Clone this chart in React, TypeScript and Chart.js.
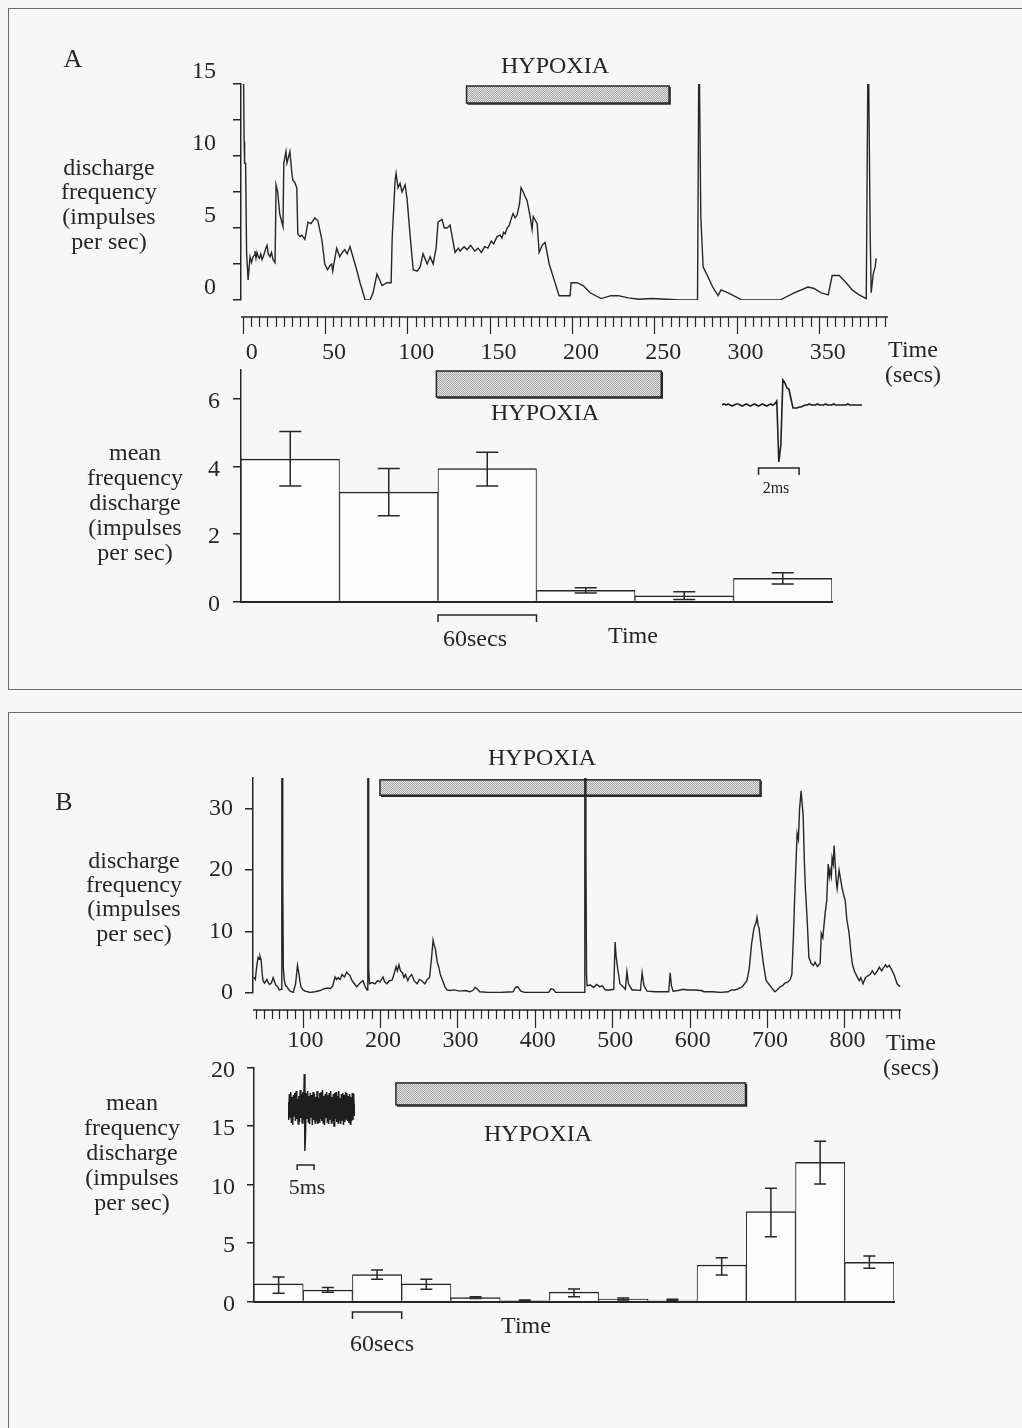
import React, { useEffect, useRef } from "react";
import { Chart, registerables } from "chart.js";

Chart.register(...registerables);

const SERIF = "'Liberation Serif', 'Times New Roman', serif";
const INK = "#262626";
const PAPER = "#f7f7f7";
const TICK_FONT = { family: SERIF, size: 24, lineHeight: 1 };

// ---------- Panel A ----------
// continuous discharge record: [time (s), impulses per sec]
const traceA: [number, number][] = [
  [0, 15], [0.6, 15], [0.9, 11], [1.2, 9.5], [1.8, 9.5], [2.4, 3.3], [3.3, 1.4], [4.5, 3.0],
  [5.4, 2.6], [6.3, 3.0], [7.0, 3.1], [7.5, 3.4], [8.1, 2.9], [8.7, 3.3], [9.5, 3.0], [10.2, 2.9],
  [11.0, 3.2], [11.8, 2.8], [12.5, 3.0], [13.3, 3.3], [14.1, 3.6], [14.8, 3.8], [15.6, 3.2],
  [16.6, 3.0], [17.5, 3.3], [18.5, 2.8], [19.7, 2.6], [20.3, 8.0], [21.3, 7.5], [22.5, 6.0],
  [24.5, 5.1], [25.0, 9.5], [26.3, 10.3], [26.9, 9.5], [27.8, 9.9], [28.7, 10.3], [29.9, 8.8],
  [30.5, 8.3], [31.5, 8.2], [32.9, 7.8], [33.5, 4.6], [34.8, 4.4], [36.0, 4.5], [37.8, 4.2],
  [39.7, 5.4], [41.5, 5.3], [43.9, 5.7], [45.7, 5.5], [48.1, 4.2], [49.9, 2.5], [51.6, 2.1],
  [53.0, 2.4], [54.1, 2.5], [54.7, 2.0], [57.1, 3.6], [59.0, 3.0], [60.5, 3.3], [62.0, 3.5],
  [63.5, 3.2], [65.2, 3.7], [67.0, 3.0], [69.5, 2.0], [71.3, 1.2], [74.4, 0.0], [77.4, 0.0],
  [79.2, 0.5], [81.6, 1.8], [84.7, 1.0], [87.7, 1.2], [90.2, 1.2], [90.8, 4.2], [92.6, 8.3],
  [93.2, 8.8], [94.4, 7.8], [95.6, 8.1], [96.8, 7.5], [98.7, 8.0], [99.9, 7.0], [101.7, 4.5],
  [103.6, 2.1], [106.0, 2.0], [107.8, 2.3], [109.6, 3.2], [112.1, 2.5], [113.9, 3.0],
  [115.7, 2.5], [117.5, 3.6], [118.7, 5.4], [121.1, 5.6], [122.5, 5.0], [124.2, 5.0],
  [126.0, 5.2], [129.0, 3.3], [131.0, 3.6], [132.1, 3.4], [134.5, 3.7], [136.3, 3.5],
  [138.5, 3.8], [141.0, 3.4], [143.0, 3.6], [145.0, 3.3], [147.0, 3.7], [149.0, 3.6],
  [151.0, 4.1], [152.5, 3.9], [154.5, 4.4], [156.4, 4.5], [157.5, 4.3], [158.5, 4.7],
  [159.5, 4.6], [160.6, 5.0], [162.0, 5.2], [163.0, 5.6], [164.3, 6.0], [165.5, 5.7],
  [166.7, 5.9], [168.2, 6.7], [169.1, 7.8], [170.4, 7.5], [171.5, 7.2], [172.8, 6.9],
  [174.6, 5.8], [175.8, 4.9], [176.5, 5.8], [178.9, 5.3], [180.1, 3.3], [181.9, 3.8],
  [183.7, 4.0], [186.2, 2.5], [189.2, 1.4], [192.2, 0.3], [198.9, 0.3], [199.5, 1.2],
  [203.1, 1.2], [206.8, 1.0], [211.1, 0.5], [217.7, 0.1], [223.8, 0.3], [228.1, 0.3],
  [234.2, 0.15], [240.8, 0.05], [248.7, 0.1], [257.2, 0.05], [265.7, 0], [276.3, 0], [277.0, 15],
  [277.5, 15], [278.3, 5.8], [279.7, 2.3], [282.7, 1.6], [285.5, 0.9], [288.8, 0.3], [290.6, 0.7],
  [294.9, 0.5], [303.4, 0], [309.4, 0], [326.4, 0], [335.0, 0.5], [343.4, 0.9], [347.1, 0.8],
  [351.4, 0.5], [355.7, 0.35], [358.1, 1.7], [362.4, 1.7], [366.6, 1.2], [370.3, 0.7],
  [374.5, 0.35], [378.8, 0.1], [379.7, 15], [380.3, 15], [381.2, 4.4], [381.8, 0.5], [383.0, 1.8],
  [384.2, 2.3], [384.8, 2.9],
];
const hypoxiaTimeA = [136, 259];
const hypoxiaLevelA = [13.68, 14.86];

// 60 s bin means with error limits
const binCentresA = [30, 90, 150, 210, 270, 330];
const binMeansA = [4.22, 3.24, 3.94, 0.33, 0.17, 0.69];
const binErrHighA = [5.04, 3.94, 4.42, 0.41, 0.29, 0.85];
const binErrLowA = [3.42, 2.54, 3.42, 0.25, 0.06, 0.52];
const hypoxiaBinsA = [119, 256];
const hypoxiaBinLevelA = [6.06, 6.83];

// single action potential, 0.1 ms per sample
const spikeA = [
  0, 1, 0, 1, 0, -1, 0, 1, 1, 0, -1, 0, 1, 0, -1, 0, 1, 0, -1, 0,
  1, 0, -1, 0, 1, 0, 1, 4, -57, -40, 25, 22, 17, 16, 6, -3, -3, -3, -2, -2,
  -1, 0, 0, 1, 0, 0, 0, 1, 0, 0, 0, 1, 0, 0, 0, 1, 0, 0, 0, 0,
  0, 0, 1, 0, 0, 0, 0, 0, 0, 0,
];

// ---------- Panel B ----------
const traceB: [number, number][] = [
  [37, 2.6], [39, 2.2], [40.5, 4.0], [42.5, 5.8], [44, 5.5], [45, 6.0], [46.5, 5.4], [48, 3.0],
  [49, 2.0], [51, 1.6], [52.5, 1.9], [54, 2.2], [56, 1.6], [57.5, 1.4], [60, 1.7], [62, 2.5],
  [64, 1.8], [65.5, 1.3], [68, 1.0], [70, 0.5], [72.5, 0.6], [73.2, 35], [73.9, 35], [74.4, 19],
  [75.2, 4], [76.5, 2.0], [78, 1.2], [80, 1.0], [82, 0.6], [84, 0.3], [88, 0.1], [91, 1.5],
  [93.5, 4.5], [95, 3.4], [96.5, 2.0], [98, 1.0], [100, 0.6], [103, 0.3], [110, 0.1], [116, 0.2],
  [122.6, 0.4], [128, 0.7], [133, 0.8], [136, 0.7], [139, 1.2], [142, 2.6], [144, 2.2], [146, 2.5],
  [148.5, 2.2], [151, 3.0], [154, 2.6], [157, 3.4], [159, 3.1], [161, 2.9], [164, 2.0], [167, 1.5],
  [170, 1.0], [174, 1.6], [178, 2.0], [181, 1.0], [183.5, 0.5], [184.3, 35], [184.9, 35],
  [185.4, 4.0], [186.5, 1.5], [190, 1.7], [193.6, 1.5], [197, 2.0], [200, 1.8], [204, 2.6],
  [206, 1.8], [209, 1.5], [212, 2.0], [215.6, 2.1], [218, 3.0], [220.8, 4.3], [222.5, 3.6],
  [224.5, 4.6], [226.5, 3.6], [229, 3.3], [231, 2.5], [233, 3.0], [236, 2.0], [238, 2.6],
  [241, 3.0], [244, 2.0], [248, 1.5], [251, 2.2], [254, 2.0], [258, 1.5], [261, 2.2], [264, 2.5],
  [266.5, 5.5], [268.6, 8.6], [270, 7.8], [271.5, 7.2], [274, 5.0], [276, 4.2], [278, 3.0],
  [281, 2.0], [284, 1.0], [286.6, 0.5], [290, 0.4], [296, 0.5], [303, 0.3], [310, 0.4], [316, 0.2],
  [320, 0.4], [323, 0.9], [326, 0.6], [329, 0.2], [340, 0.1], [355, 0.1], [372, 0.2], [375, 0.9],
  [378, 1.0], [382, 0.3], [387, 0.1], [400, 0.1], [418, 0.1], [421, 0.7], [424, 0.6], [427, 0.1],
  [445, 0.1], [463.6, 0.1], [464.6, 35], [465.3, 35], [466, 23], [466.8, 3], [467.5, 1.2],
  [472, 1.3], [476, 0.9], [480, 1.4], [484, 1.0], [487, 1.2], [491, 0.5], [496, 0.5], [502, 0.6],
  [503.7, 8.3], [505, 6.0], [507, 4.0], [510, 1.5], [514, 1.0], [517, 0.6], [519, 3.5], [521, 1.5],
  [525.7, 0.5], [530, 0.5], [536.5, 0.4], [538.6, 3.3], [541, 1.2], [545, 0.3], [555, 0.2],
  [565, 0.2], [573, 0.2], [574.8, 3.3], [576.5, 1.2], [578.6, 0.3], [585, 0.4], [592, 0.6],
  [596.7, 0.5], [605, 0.5], [614.8, 0.4], [618.7, 0.2], [630, 0.2], [640, 0.1], [649.7, 0.2],
  [654, 0.5], [658.7, 0.5], [663, 0.7], [667.8, 1.0], [671, 1.5], [674, 2.0], [677, 4.0],
  [680, 8.0], [683, 10.5], [685.9, 11.5], [687, 12.3], [688.5, 11.0], [689.7, 10.5], [692, 8.0],
  [695, 5.0], [698.8, 2.0], [702, 1.5], [705, 1.0], [710, 0.2], [713, 0.5], [716.9, 1.0],
  [720, 1.2], [723, 1.6], [727, 1.8], [730, 2.2], [732, 3.0], [734, 9.0], [735.5, 15.0],
  [737, 20], [738.8, 26], [740.5, 25], [742, 30], [744, 32.9], [745.5, 30.5], [746.6, 29],
  [748, 22], [749.5, 17], [751.8, 12], [754, 5.8], [757, 4.8], [760, 4.5], [762, 5.0], [765, 4.3],
  [768.6, 4.8], [770, 9.7], [772, 9.0], [775, 13], [777, 15], [779, 21], [780.5, 19], [781.5, 20],
  [783, 19], [784, 22], [785.5, 21], [786.6, 24], [788, 21], [789.5, 18], [790.5, 17], [793, 20],
  [795, 18.5], [797, 17], [799, 16], [801, 15], [803, 12], [806, 9.7], [808, 7], [810, 4.8],
  [813, 3.5], [815, 3.0], [819, 2.0], [821, 2.5], [824, 1.5], [827, 2.5], [830, 2.8], [833, 3.0],
  [836, 3.6], [839, 3.0], [842, 3.5], [845, 4.2], [848, 3.6], [850, 4.0], [853, 4.6], [855, 4.2],
  [857.7, 4.5], [860, 4.0], [864, 3.0], [868, 1.5], [872, 1.0],
];
const hypoxiaTimeB = [200, 691];
const hypoxiaLevelB = [32.2, 34.7];

const binCentresB = [30, 90, 150, 210, 270, 330, 390, 450, 510, 570, 630, 690, 750];
const binMeansB = [1.5, 0.98, 2.3, 1.5, 0.33, 0.08, 0.8, 0.2, 0.12, 3.12, 7.68, 11.9, 3.35];
const binErrHighB = [2.1, 1.2, 2.7, 1.9, 0.4, 0.12, 1.07, 0.3, 0.2, 3.75, 9.67, 13.7, 3.89];
const binErrLowB = [0.7, 0.8, 1.9, 1.04, 0.26, 0.04, 0.4, 0.12, 0.06, 2.26, 5.54, 10.04, 2.84];
const hypoxiaBinsB = [173, 599];
const hypoxiaBinLevelB = [16.8, 18.68];

// raw multiunit record, 0.2 ms per sample
const noiseB = [
  6, -12, 14, -9, 16, -15, 11, -17, 13, -8,
  15, -13, 17, -11, 9, -16, 12, -14, 18, -10,
  14, -15, 16, -12, 34, -43, -22, 15, -11, 17,
  -14, 12, -16, 15, -9, 13, -17, 16, -12, 14,
  -15, 11, -13, 17, -16, 10, -14, 15, -11, 16,
  -13, 18, -15, 12, -17, 14, -10, 16, -14, 13,
  -16, 15, -12, 17, -15, 11, -13, 14, -18, 15,
  -11, 16, -14, 12, -15, 17, -13, 10, -16, 14,
  -12, 15, -17, 13, -14, 16, -11, 15, -13, 12,
  -15, 14, -16, 11, -13, 15, -12, 14, -8, 4,
];

// ---------- plugins ----------
function stipple(ctx: CanvasRenderingContext2D) {
  const c = document.createElement("canvas");
  c.width = 2;
  c.height = 2;
  const g = c.getContext("2d")!;
  g.fillStyle = "#e6e6e6";
  g.fillRect(0, 0, 2, 2);
  g.fillStyle = "#a4a4a4";
  g.fillRect(0, 0, 1, 1);
  g.fillRect(1, 1, 1, 1);
  return ctx.createPattern(c, "repeat")!;
}

const bandPlugin = {
  id: "band",
  beforeDatasetsDraw(chart: any, _a: any, o: any) {
    if (!o || !o.x) return;
    const { ctx } = chart;
    const xs = chart.scales.x;
    const ys = chart.scales.y;
    const l = xs.getPixelForValue(o.x[0]);
    const r = xs.getPixelForValue(o.x[1]);
    const t = ys.getPixelForValue(o.y[1]);
    const b = ys.getPixelForValue(o.y[0]);
    ctx.save();
    ctx.fillStyle = stipple(ctx);
    ctx.fillRect(l, t, r - l, b - t);
    ctx.strokeStyle = INK;
    ctx.lineWidth = 1.5;
    ctx.strokeRect(l, t, r - l, b - t);
    ctx.beginPath();
    ctx.moveTo(l + 1, b + 1);
    ctx.lineTo(r + 1, b + 1);
    ctx.lineTo(r + 1, t + 1);
    ctx.stroke();
    ctx.restore();
  },
};

const rulerPlugin = {
  id: "ruler",
  afterDraw(chart: any, _a: any, o: any) {
    if (!o || !o.step) return;
    const { ctx } = chart;
    const xs = chart.scales.x;
    const y0 = chart.chartArea.bottom + o.gap;
    ctx.save();
    ctx.strokeStyle = INK;
    ctx.lineWidth = 1.5;
    ctx.beginPath();
    ctx.moveTo(xs.left, y0);
    ctx.lineTo(xs.right, y0);
    ctx.stroke();
    ctx.lineWidth = 1.2;
    ctx.beginPath();
    const first = Math.ceil(xs.min / o.step) * o.step;
    for (let v = first; v <= xs.max; v += o.step) {
      const px = Math.round(xs.getPixelForValue(v)) + 0.5;
      const len = v % o.major === 0 ? o.majorLen : o.minorLen;
      ctx.moveTo(px, y0);
      ctx.lineTo(px, y0 + len);
    }
    ctx.stroke();
    ctx.restore();
  },
};

const errorBarPlugin = {
  id: "errorBars",
  afterDatasetsDraw(chart: any, _a: any, o: any) {
    if (!o || !o.hi) return;
    const { ctx } = chart;
    const ys = chart.scales.y;
    const meta = chart.getDatasetMeta(0);
    ctx.save();
    ctx.strokeStyle = INK;
    ctx.lineWidth = 1.5;
    meta.data.forEach((el: any, i: number) => {
      const hi = ys.getPixelForValue(o.hi[i]);
      const lo = ys.getPixelForValue(o.lo[i]);
      ctx.beginPath();
      ctx.moveTo(el.x, hi);
      ctx.lineTo(el.x, lo);
      ctx.moveTo(el.x - o.cap, hi);
      ctx.lineTo(el.x + o.cap, hi);
      ctx.moveTo(el.x - o.cap, lo);
      ctx.lineTo(el.x + o.cap, lo);
      ctx.stroke();
    });
    ctx.restore();
  },
};

const bracketPlugin = {
  id: "bracket",
  afterDraw(chart: any, _a: any, o: any) {
    if (!o || o.from === undefined) return;
    const { ctx } = chart;
    const xs = chart.scales.x;
    const l = xs.getPixelForValue(o.from);
    const r = xs.getPixelForValue(o.to);
    const y = chart.chartArea.bottom + o.gap;
    ctx.save();
    ctx.strokeStyle = INK;
    ctx.lineWidth = 1.5;
    ctx.beginPath();
    ctx.moveTo(l, y + o.drop);
    ctx.lineTo(l, y);
    ctx.lineTo(r, y);
    ctx.lineTo(r, y + o.drop);
    ctx.stroke();
    ctx.restore();
  },
};

const PLUGINS = [bandPlugin, rulerPlugin, errorBarPlugin, bracketPlugin];

const base = {
  animation: false,
  responsive: false,
  devicePixelRatio: 1,
  events: [],
};

function traceConfig(p: {
  data: [number, number][];
  xMin: number; xMax: number; xStep: number; xLabel: (v: number) => boolean; xPad: number; xOff: number; xH: number;
  yMax: number; yStep: number; yLabel: (v: number) => boolean; yPad: number; yOff: number; yW: number;
  pad: any; band: any; ruler: any;
}) {
  return {
    type: "line",
    data: {
      datasets: [{
        data: p.data.map(([x, y]) => ({ x, y })),
        borderColor: INK, borderWidth: 1.4, pointRadius: 0, tension: 0, fill: false,
      }],
    },
    options: {
      ...base,
      layout: { padding: p.pad },
      plugins: { legend: { display: false }, tooltip: { enabled: false }, band: p.band, ruler: p.ruler },
      scales: {
        x: {
          type: "linear", min: p.xMin, max: p.xMax,
          grid: { display: false, drawTicks: false }, border: { display: false },
          ticks: {
            stepSize: p.xStep, includeBounds: false, autoSkip: false, maxRotation: 0,
            padding: p.xPad, labelOffset: p.xOff, font: TICK_FONT, color: INK,
            callback: (v: number) => (p.xLabel(v) ? String(v) : ""),
          },
          afterFit: (s: any) => { s.height = p.xH; },
        },
        y: {
          type: "linear", min: 0, max: p.yMax,
          grid: { drawOnChartArea: false, drawTicks: true, tickLength: 8, color: INK, lineWidth: 1.5 },
          border: { display: true, color: INK, width: 1.5 },
          ticks: {
            stepSize: p.yStep, includeBounds: false, autoSkip: false, padding: p.yPad,
            labelOffset: p.yOff, font: TICK_FONT, color: INK,
            callback: (v: number) => (p.yLabel(v) ? String(v) : ""),
          },
          afterFit: (s: any) => { s.width = p.yW; },
        },
      },
    },
    plugins: PLUGINS,
  };
}

function binConfig(p: {
  centres: number[]; means: number[]; hi: number[]; lo: number[]; cap: number;
  xMax: number; xH: number; yMax: number; yStep: number; yPad: number; yOff: number; yW: number;
  tickLen: number; pad: any; band: any; bracket: any;
}) {
  return {
    type: "bar",
    data: {
      datasets: [{
        data: p.centres.map((x, i) => ({ x, y: p.means[i] })),
        backgroundColor: "#fcfcfc", borderColor: INK,
        borderWidth: { top: 1.5, left: 1, right: 1, bottom: 0 },
        barPercentage: 1, categoryPercentage: 1,
      }],
    },
    options: {
      ...base,
      layout: { padding: p.pad },
      plugins: {
        legend: { display: false }, tooltip: { enabled: false },
        band: p.band, errorBars: { hi: p.hi, lo: p.lo, cap: p.cap }, bracket: p.bracket,
      },
      scales: {
        x: {
          type: "linear", min: 0, max: p.xMax, offset: false,
          grid: { display: false, drawTicks: false, offset: false },
          border: { display: true, color: INK, width: 2 },
          // one tick per 60 s bin so the bins fill the axis edge to edge
          ticks: { display: false, stepSize: 60, maxTicksLimit: 100 },
          afterFit: (s: any) => { s.height = p.xH; },
        },
        y: {
          type: "linear", min: 0, max: p.yMax,
          grid: { drawOnChartArea: false, drawTicks: true, tickLength: p.tickLen, color: INK, lineWidth: 1.5 },
          border: { display: true, color: INK, width: 1.5 },
          ticks: {
            stepSize: p.yStep, includeBounds: false, autoSkip: false, padding: p.yPad,
            labelOffset: p.yOff, font: TICK_FONT, color: INK,
          },
          afterFit: (s: any) => { s.width = p.yW; },
        },
      },
    },
    plugins: PLUGINS,
  };
}

function insetConfig(p: { values: number[]; dt: number; yMin: number; yMax: number; pad: any; bracket: any; width: number }) {
  return {
    type: "line",
    data: {
      datasets: [{
        data: p.values.map((y, i) => ({ x: i * p.dt, y })),
        borderColor: "#1e1e1e", borderWidth: p.width, pointRadius: 0, tension: 0, fill: false,
      }],
    },
    options: {
      ...base,
      layout: { padding: p.pad },
      plugins: { legend: { display: false }, tooltip: { enabled: false }, bracket: p.bracket },
      scales: {
        x: { type: "linear", display: false, min: 0, max: (p.values.length - 1) * p.dt },
        y: { type: "linear", display: false, min: p.yMin, max: p.yMax },
      },
    },
    plugins: PLUGINS,
  };
}

function ChartBox({ left, top, width, height, make }: { left: number; top: number; width: number; height: number; make: () => any }) {
  const ref = useRef<HTMLCanvasElement>(null);
  useEffect(() => {
    const chart = new Chart(ref.current as HTMLCanvasElement, make());
    return () => chart.destroy();
  }, []);
  return (
    <canvas
      ref={ref}
      width={width}
      height={height}
      style={{ position: "absolute", left, top, width, height }}
    />
  );
}

function Label({ cx, cy, lines, size = 24, lh = 24.5, w = 260 }: { cx: number; cy: number; lines: string[]; size?: number; lh?: number; w?: number }) {
  const h = lines.length * lh;
  return (
    <div
      style={{
        position: "absolute", left: cx - w / 2, top: cy - h / 2, width: w,
        textAlign: "center", fontFamily: SERIF, fontSize: size, lineHeight: `${lh}px`,
        color: INK, whiteSpace: "nowrap",
      }}
    >
      {lines.map((l, i) => (
        <div key={i}>{l}</div>
      ))}
    </div>
  );
}

export default function App() {
  return (
    <div
      style={{
        position: "absolute", left: 0, top: 0, width: 1022, height: 1428,
        overflow: "hidden", background: PAPER,
      }}
    >
      {/* panel frames */}
      <div style={{ position: "absolute", left: 8, top: 8, width: 1040, height: 680, border: "1.5px solid #6a6a6a" }} />
      <div style={{ position: "absolute", left: 8, top: 712, width: 1040, height: 800, border: "1.5px solid #6a6a6a" }} />

      {/* Panel A: continuous record */}
      <ChartBox
        left={150} top={55} width={760} height={335}
        make={() => traceConfig({
          data: traceA,
          xMin: -1, xMax: 392, xStep: 50, xLabel: (v) => v >= 0 && v <= 350, xPad: 41, xOff: 9, xH: 90,
          yMax: 15, yStep: 2.5, yLabel: (v) => v % 5 === 0, yPad: 17, yOff: -12, yW: 91,
          pad: { top: 29, right: 22, left: 0, bottom: 0 },
          band: { x: hypoxiaTimeA, y: hypoxiaLevelA },
          ruler: { step: 5, major: 50, gap: 17, minorLen: 10, majorLen: 17 },
        })}
      />
      {/* Panel A: binned means */}
      <ChartBox
        left={150} top={340} width={700} height={320}
        make={() => binConfig({
          centres: binCentresA, means: binMeansA, hi: binErrHighA, lo: binErrLowA, cap: 11,
          xMax: 360, xH: 58.5, yMax: 6.86, yStep: 2, yPad: 13, yOff: 3, yW: 91, tickLen: 8,
          pad: { top: 30, right: 18, left: 0, bottom: 0 },
          band: { x: hypoxiaBinsA, y: hypoxiaBinLevelA },
          bracket: { from: 120, to: 180, gap: 13.5, drop: 7 },
        })}
      />
      {/* Panel A: action potential */}
      <ChartBox
        left={715} top={370} width={160} height={130}
        make={() => insetConfig({
          values: spikeA, dt: 0.1, yMin: -59, yMax: 27, width: 1.6,
          pad: { left: 7, right: 13, top: 8, bottom: 36 },
          bracket: { from: 1.8, to: 3.8, gap: 4, drop: 7 },
        })}
      />

      {/* Panel B: continuous record */}
      <ChartBox
        left={160} top={750} width={760} height={330}
        make={() => traceConfig({
          data: traceB,
          xMin: 36, xMax: 873, xStep: 100, xLabel: (v) => v >= 100 && v <= 800, xPad: 36, xOff: 3, xH: 87,
          yMax: 35, yStep: 10, yLabel: () => true, yPad: 12, yOff: 0, yW: 93,
          pad: { top: 28, right: 19, left: 0, bottom: 0 },
          band: { x: hypoxiaTimeB, y: hypoxiaLevelB },
          ruler: { step: 10, major: 100, gap: 17, minorLen: 9, majorLen: 18 },
        })}
      />
      {/* Panel B: binned means */}
      <ChartBox
        left={160} top={1040} width={760} height={310}
        make={() => binConfig({
          centres: binCentresB, means: binMeansB, hi: binErrHighB, lo: binErrLowB, cap: 6,
          xMax: 780, xH: 48.5, yMax: 20, yStep: 5, yPad: 12, yOff: 3, yW: 94, tickLen: 7,
          pad: { top: 27.5, right: 26, left: 0, bottom: 0 },
          band: { x: hypoxiaBinsB, y: hypoxiaBinLevelB },
          bracket: { from: 120, to: 180, gap: 10.5, drop: 7 },
        })}
      />
      {/* Panel B: raw multiunit record */}
      <ChartBox
        left={280} top={1060} width={90} height={120}
        make={() => insetConfig({
          values: noiseB, dt: 0.2, yMin: -44, yMax: 37, width: 1.5,
          pad: { left: 8, right: 15, top: 11, bottom: 28 },
          bracket: { from: 2.7, to: 7.7, gap: 13, drop: 5 },
        })}
      />

      {/* text */}
      <Label cx={73} cy={59} lines={["A"]} size={26} />
      <Label cx={64} cy={802} lines={["B"]} size={26} />

      <Label cx={109} cy={204} lh={24.7} lines={["discharge", "frequency", "(impulses", "per sec)"]} />
      <Label cx={135} cy={502} lh={25} lines={["mean", "frequency", "discharge", "(impulses", "per sec)"]} />
      <Label cx={134} cy={896.5} lh={24.3} lines={["discharge", "frequency", "(impulses", "per sec)"]} />
      <Label cx={132} cy={1152} lh={25} lines={["mean", "frequency", "discharge", "(impulses", "per sec)"]} />

      <Label cx={555} cy={65} lines={["HYPOXIA"]} />
      <Label cx={545} cy={412} lines={["HYPOXIA"]} />
      <Label cx={542} cy={757} lines={["HYPOXIA"]} />
      <Label cx={538} cy={1133} lines={["HYPOXIA"]} />

      <Label cx={913} cy={362} lh={25} lines={["Time", "(secs)"]} />
      <Label cx={911} cy={1054.5} lh={25} lines={["Time", "(secs)"]} />

      <Label cx={475} cy={638} lines={["60secs"]} />
      <Label cx={633} cy={635} lines={["Time"]} />
      <Label cx={382} cy={1343} lines={["60secs"]} />
      <Label cx={526} cy={1325} lines={["Time"]} />

      <Label cx={776} cy={488} lines={["2ms"]} size={16} lh={18} />
      <Label cx={307} cy={1187} lines={["5ms"]} size={22} />
    </div>
  );
}
